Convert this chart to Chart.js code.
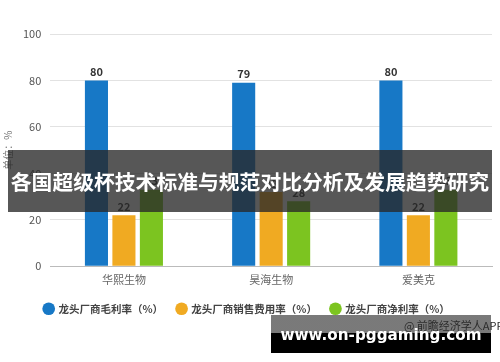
<!DOCTYPE html>
<html>
<head>
<meta charset="utf-8">
<script src="https://cdn.jsdelivr.net/npm/chart.js@4"></script>
<style>
  html, body { margin: 0; padding: 0; background: #fff; }
  #wrap { position: relative; width: 500px; height: 362px; overflow: hidden; font-family: 'Noto Sans CJK SC', sans-serif; }
  #banner {
    position: absolute; left: 8px; top: 150px; width: 484px; height: 62px;
    background: rgba(40, 40, 40, 0.78); color: #fff;
    font-size: 20.8px; font-weight: bold; line-height: 62px; text-align: center; white-space: nowrap;
  }
  #site {
    position: absolute; left: 271px; top: 315px; width: 220px; height: 38px;
    background: linear-gradient(to bottom, rgba(70,70,70,0.72) 0%, rgba(70,70,70,0.72) 48%, #000 48%, #000 100%);
    color: #fff; font-family: 'DejaVu Sans', sans-serif; font-weight: bold; font-size: 15.2px;
    line-height: 40px; text-align: center; white-space: nowrap;
  }
  #source { position: absolute; left: 404px; top: 317px; font-size: 11px; color: #2c2c2c; white-space: nowrap; }
</style>
</head>
<body>
<div id="wrap">
  <canvas id="chart" width="500" height="362"></canvas>
  <div id="banner">各国超级杯技术标准与规范对比分析及发展趋势研究</div>
  <div id="site">www.on-pggaming.com</div>
  <div id="source">@ 前瞻经济学人APP</div>
</div>
<script>
const companies = ['华熙生物', '昊海生物', '爱美克'];
const grossMargin = [80, 79, 80];
const salesExpense = [22, 32, 22];
const netMargin = [33, 28, 33];
const yTicks = [0, 20, 40, 60, 80, 100];

const seriesNames = ['龙头厂商毛利率（%）', '龙头厂商销售费用率（%）', '龙头厂商净利率（%）'];
const seriesColors = ['#1778c6', '#f0aa22', '#7cc420'];

const cjk = "'Noto Sans CJK SC', sans-serif";

const valueLabels = {
    id: 'valueLabels',
    afterDatasetsDraw(chart) {
        const c = chart.ctx;
        c.save();
        c.font = 'bold 11px ' + cjk;
        c.fillStyle = '#333';
        c.textAlign = 'center';
        c.textBaseline = 'bottom';
        chart.data.datasets.forEach((ds, i) => {
            chart.getDatasetMeta(i).data.forEach((bar, j) => {
                c.fillText(ds.data[j], bar.x, bar.y - 3);
            });
        });
        c.restore();
    }
};

new Chart(document.getElementById('chart').getContext('2d'), {
    type: 'bar',
    data: {
        labels: companies,
        datasets: [grossMargin, salesExpense, netMargin].map((d, i) => ({
            label: seriesNames[i],
            data: d,
            backgroundColor: seriesColors[i],
            barPercentage: 0.84,
            categoryPercentage: 0.56
        }))
    },
    options: {
        responsive: false,
        animation: false,
        layout: { padding: { left: 2, right: 8, top: 34, bottom: 38 } },
        plugins: {
            legend: {
                position: 'bottom',
                labels: {
                    usePointStyle: true,
                    pointStyle: 'circle',
                    boxWidth: 9,
                    boxHeight: 9,
                    padding: 14,
                    color: '#444',
                    font: { family: cjk, size: 10.5, weight: 'bold' }
                }
            },
            tooltip: { enabled: false }
        },
        scales: {
            x: {
                grid: { display: false, drawTicks: true, tickLength: 4 },
                border: { color: '#bbb' },
                ticks: { color: '#666', font: { family: cjk, size: 11 }, padding: 3 }
            },
            y: {
                min: 0,
                max: 100,
                afterBuildTicks: axis => { axis.ticks = yTicks.map(v => ({ value: v })); },
                grid: { color: '#e2e2e2', drawTicks: false },
                border: { display: false },
                ticks: { color: '#555', font: { family: cjk, size: 11 }, padding: 9 },
                title: { display: true, text: '单位：%', color: '#777', font: { family: cjk, size: 10 }, padding: 0 }
            }
        }
    },
    plugins: [valueLabels]
});
</script>
</body>
</html>
